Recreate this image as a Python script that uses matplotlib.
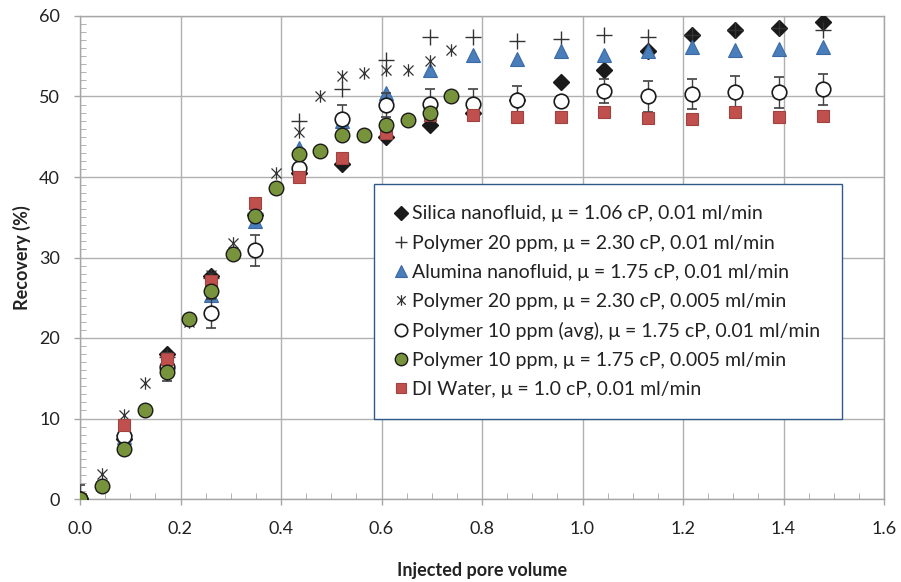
import numpy as np
import matplotlib
matplotlib.use("Agg")
import matplotlib.pyplot as plt
from matplotlib.path import Path

plt.rcParams['font.family'] = ['Lato', 'DejaVu Sans']

# x positions (injected pore volume)
pv_001 = [0.0, 0.087, 0.174, 0.261, 0.348, 0.435, 0.522, 0.609, 0.696, 0.783,
          0.870, 0.957, 1.043, 1.130, 1.217, 1.304, 1.391, 1.478]
pv_0005 = [0.0, 0.043, 0.087, 0.130, 0.174, 0.217, 0.261, 0.304, 0.348, 0.391,
           0.435, 0.478, 0.522, 0.565, 0.609, 0.652, 0.696, 0.739]

silica = [0.0, 7.5, 18.0, 27.7, 35.3, 40.5, 41.6, 45.0, 46.4, 47.9,
          49.6, 51.8, 53.3, 55.6, 57.7, 58.3, 58.5, 59.3]
poly20_001 = [0.0, 8.0, 17.6, 27.5, 35.5, 46.9, 50.9, 54.5, 57.4, 57.4,
              56.9, 57.1, 57.6, 57.4, 57.6, 58.3, 58.5, 58.3]
alumina = [0.0, 7.7, 17.0, 25.3, 34.5, 43.6, 46.9, 50.4, 53.3, 55.2,
           54.7, 55.6, 55.2, 55.7, 56.1, 55.8, 55.9, 56.2]
poly20_0005 = [0.0, 3.1, 10.4, 14.4, 17.5, 22.0, 27.8, 31.8, 35.5, 40.5,
               45.6, 50.0, 52.5, 52.9, 53.3, 53.3, 54.4, 55.8]
poly10_avg = [0.0, 7.8, 16.4, 23.1, 30.9, 41.1, 47.2, 48.9, 49.1, 49.1,
              49.6, 49.4, 50.7, 50.0, 50.3, 50.6, 50.5, 50.9]
poly10_err = [1.8, 1.0, 1.7, 1.8, 1.9, 1.9, 1.7, 1.5, 1.8, 1.8,
              1.7, 0.6, 1.5, 1.9, 1.9, 1.9, 1.9, 1.9]
poly10_0005 = [0.0, 1.6, 6.2, 11.1, 15.8, 22.3, 25.8, 30.4, 35.2, 38.6,
               42.9, 43.2, 45.2, 45.2, 46.4, 47.1, 47.9, 50.0]
di_water = [0.0, 9.2, 17.4, 27.1, 36.8, 40.0, 42.4, 45.5, 47.7, 47.7,
            47.4, 47.4, 48.1, 47.3, 47.2, 48.1, 47.5, 47.6]

labels = [
    "Silica nanofluid, \u03bc = 1.06 cP, 0.01 ml/min",
    "Polymer 20 ppm, \u03bc = 2.30 cP, 0.01 ml/min",
    "Alumina nanofluid, \u03bc = 1.75 cP, 0.01 ml/min",
    "Polymer 20 ppm, \u03bc = 2.30 cP, 0.005 ml/min",
    "Polymer 10 ppm (avg), \u03bc = 1.75 cP, 0.01 ml/min",
    "Polymer 10 ppm, \u03bc = 1.75 cP, 0.005 ml/min",
    "DI Water, \u03bc = 1.0 cP, 0.01 ml/min",
]

star = Path([(-1, -1), (1, 1), (-1, 1), (1, -1), (0, -1.25), (0, 1.25)],
            [Path.MOVETO, Path.LINETO, Path.MOVETO, Path.LINETO, Path.MOVETO, Path.LINETO])

fig = plt.figure(figsize=(9.01, 5.82), dpi=100)
ax = fig.add_axes([80/901, 1-499/582, 804/901, 483/582])

h = []
h.append(ax.plot(pv_001, silica, ls='none', marker='D', ms=8.5, mfc='#1a1a1a',
                 mec='#1a1a1a', zorder=3)[0])
h.append(ax.plot(pv_001, poly20_001, ls='none', marker='+', ms=11, mew=1.0,
                 color='#333333', zorder=3)[0])
h.append(ax.plot(pv_001, alumina, ls='none', marker='^', ms=10, mfc='#4a7ebb',
                 mec='#3a6aa6', mew=0.8, zorder=3)[0])
h.append(ax.plot(pv_0005, poly20_0005, ls='none', marker=star, ms=9, mew=0.9,
                 mfc='none', mec='#333333', zorder=3)[0])
eb = ax.errorbar(pv_001, poly10_avg, yerr=poly10_err, ls='none', marker='o', ms=10.5,
                 mfc='white', mec='#1a1a1a', mew=1.2, ecolor='#404040', elinewidth=1.0,
                 capsize=3.5, capthick=1.0, zorder=3)
h.append(eb.lines[0])
h.append(ax.plot(pv_0005, poly10_0005, ls='none', marker='o', ms=10.5, mfc='#77933c',
                 mec='#1a1a1a', mew=1.0, zorder=4)[0])
h.append(ax.plot(pv_001, di_water, ls='none', marker='s', ms=9, mfc='#c0504d',
                 mec='#a04340', mew=0.8, zorder=3.5)[0])

ax.set_xlim(0, 1.6)
ax.set_ylim(0, 60)
ax.set_xticks(np.arange(0, 1.61, 0.2))
ax.set_xticklabels([f"{v:.1f}" for v in np.arange(0, 1.61, 0.2)])
ax.set_yticks(np.arange(0, 61, 10))
ax.set_xticks(np.arange(0, 1.601, 0.05), minor=True)
ax.set_yticks(np.arange(0, 60.1, 1), minor=True)
ax.grid(True, which='major', color='#b0b0b0', lw=1.0, zorder=0)
ax.set_axisbelow(True)
for s in ax.spines.values():
    s.set_color('#a6a6a6')
    s.set_linewidth(1.0)
ax.tick_params(which='major', direction='out', length=4.5, width=1.0, color='#a6a6a6',
               labelsize=13, labelcolor='#222222')
ax.tick_params(axis='y', which='major', pad=10)
ax.tick_params(axis='x', which='major', pad=11.5)
ax.tick_params(which='minor', direction='in', length=4, color='#a6a6a6')
ax.tick_params(top=False, right=False, which='both')

ax.set_xlabel("Injected pore volume", fontsize=13, fontweight='bold', labelpad=18,
              color='#222222')
ax.set_ylabel("Recovery (%)", fontsize=13, fontweight='bold', labelpad=6,
              color='#222222')

leg = ax.legend(h, labels, loc='upper left', bbox_to_anchor=(0.366, 0.652),
                fontsize=14, frameon=True, fancybox=False, framealpha=1,
                edgecolor='#2e5a8a', borderpad=1.1, labelspacing=0.62,
                handlelength=0.55, handletextpad=0.3, borderaxespad=0,
                markerscale=0.85)
leg.get_frame().set_linewidth(1.0)
for t in leg.get_texts():
    t.set_color('#222222')

fig.savefig("out.png", dpi=100)
